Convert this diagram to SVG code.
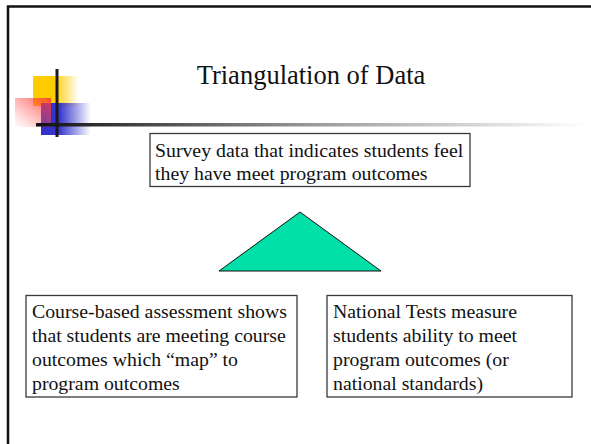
<svg xmlns="http://www.w3.org/2000/svg" width="591" height="444" viewBox="0 0 591 444">
<defs>
<linearGradient id="hl" x1="0" y1="0" x2="1" y2="0">
<stop offset="0" stop-color="#111"/><stop offset="0.5" stop-color="#999"/><stop offset="1" stop-color="#fff"/>
</linearGradient>
<linearGradient id="yel" x1="0" y1="0" x2="1" y2="0">
<stop offset="0.45" stop-color="#ffcc00"/><stop offset="1" stop-color="#ffcc00" stop-opacity="0"/>
</linearGradient>
<linearGradient id="red" x1="1" y1="0" x2="0" y2="1">
<stop offset="0" stop-color="#ff3333"/><stop offset="1" stop-color="#ff6666" stop-opacity="0"/>
</linearGradient>
<linearGradient id="blu" x1="0" y1="0" x2="1" y2="0">
<stop offset="0.35" stop-color="#3333cc"/><stop offset="1" stop-color="#3333cc" stop-opacity="0"/>
</linearGradient>
</defs>
<style>
.box{fill:#fff;stroke:#3a3a3a;stroke-width:1.3}
.t{font-family:"Liberation Serif","Times New Roman",serif;font-size:19.8px;fill:#111}
.title{font-family:"Liberation Serif","Times New Roman",serif;font-size:26.5px;fill:#111}
</style>
<rect x="0" y="0" width="591" height="444" fill="#fff"/>
<path d="M8 444 V6.5 H591" fill="none" stroke="#111" stroke-width="2.5"/>
<g id="decoration">
<rect x="33" y="76" width="46" height="30" fill="url(#yel)"/>
<rect x="41" y="103" width="50" height="32" fill="url(#blu)"/>
<rect x="15" y="98" width="36" height="29" fill="url(#red)" opacity="0.85"/>
<rect x="36" y="123" width="550" height="3.5" fill="url(#hl)"/>
<rect x="55.5" y="69" width="3" height="68" fill="#1a1a1a"/>
</g>
<text class="title" x="311" y="84" text-anchor="middle">Triangulation of Data</text>
<g id="connectors"></g>
<g id="survey">
<rect class="box" x="150" y="133.5" width="320" height="53"/>
<text class="t" x="155" y="157">Survey data that indicates students feel</text>
<text class="t" x="155" y="180">they have meet program outcomes</text>
</g>
<g id="triangle">
<polygon points="300,212 381,271 219,271" fill="#00e0a8" stroke="#111" stroke-width="1"/>
</g>
<g id="course">
<rect class="box" x="26" y="295.5" width="271" height="101.5"/>
<text class="t" x="32" y="318">Course-based assessment shows</text>
<text class="t" x="32" y="342">that students are meeting course</text>
<text class="t" x="32" y="366">outcomes which “map” to</text>
<text class="t" x="32" y="390">program outcomes</text>
</g>
<g id="national">
<rect class="box" x="327" y="295.5" width="245" height="101.5"/>
<text class="t" x="333" y="318">National Tests measure</text>
<text class="t" x="333" y="342">students ability to meet</text>
<text class="t" x="333" y="366">program outcomes (or</text>
<text class="t" x="333" y="390">national standards)</text>
</g>
</svg>
